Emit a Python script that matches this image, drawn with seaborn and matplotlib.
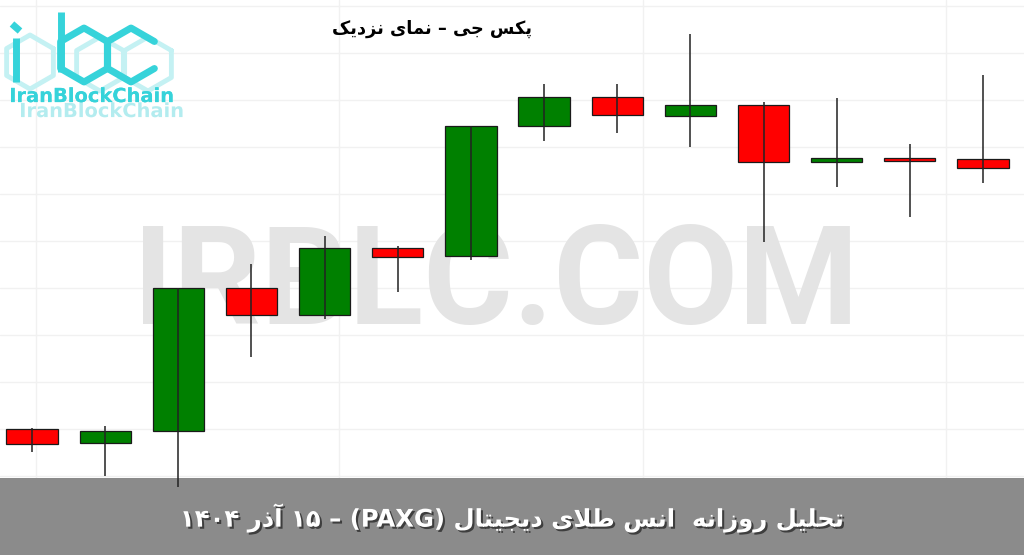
import numpy as np
import pandas as pd
import seaborn as sns
import matplotlib.pyplot as plt
import matplotlib.patheffects as pe
from matplotlib.patches import Rectangle

# daily candles (PAXG)
days = list(range(14))
open_ = [4035.5, 4028.5, 4034.5, 4106.0, 4092.5, 4126.0, 4122.0, 4187.0, 4201.5, 4192.0, 4197.5, 4169.0, 4171.0, 4170.5]
high = [4036.0, 4037.0, 4106.0, 4118.0, 4132.0, 4127.0, 4187.0, 4208.0, 4208.0, 4233.0, 4199.0, 4201.0, 4178.0, 4212.5]
low = [4024.0, 4012.0, 4006.5, 4071.5, 4090.5, 4104.0, 4120.0, 4179.5, 4183.5, 4176.5, 4129.0, 4156.5, 4141.5, 4158.5]
close = [4028.0, 4034.5, 4106.0, 4092.5, 4126.0, 4121.5, 4187.0, 4201.5, 4192.5, 4197.5, 4169.0, 4171.0, 4169.5, 4166.0]

title = "پکس جی – نمای نزدیک"
caption = "تحلیل روزانه  انس طلای دیجیتال (PAXG) – ۱۵ آذر ۱۴۰۴"
watermark = "IRBLC.COM"
brand = "IranBlockChain"

# matplotlib has no arabic shaping, so pick presentation forms by hand
FORMS = {
    'ا': ('\uFE8D', '\uFE8E', None, None),
    'آ': ('\uFE81', '\uFE82', None, None),
    'د': ('\uFEA9', '\uFEAA', None, None),
    'ذ': ('\uFEAB', '\uFEAC', None, None),
    'ر': ('\uFEAD', '\uFEAE', None, None),
    'ز': ('\uFEAF', '\uFEB0', None, None),
    'و': ('\uFEED', '\uFEEE', None, None),
    'ت': ('\uFE95', '\uFE96', '\uFE97', '\uFE98'),
    'ج': ('\uFE9D', '\uFE9E', '\uFE9F', '\uFEA0'),
    'ح': ('\uFEA1', '\uFEA2', '\uFEA3', '\uFEA4'),
    'س': ('\uFEB1', '\uFEB2', '\uFEB3', '\uFEB4'),
    'ط': ('\uFEC1', '\uFEC2', '\uFEC3', '\uFEC4'),
    'ل': ('\uFEDD', '\uFEDE', '\uFEDF', '\uFEE0'),
    'م': ('\uFEE1', '\uFEE2', '\uFEE3', '\uFEE4'),
    'ن': ('\uFEE5', '\uFEE6', '\uFEE7', '\uFEE8'),
    'ه': ('\uFEE9', '\uFEEA', '\uFEEB', '\uFEEC'),
    'ی': ('\uFBFC', '\uFBFD', '\uFBFE', '\uFBFF'),
    'پ': ('\uFB56', '\uFB57', '\uFB58', '\uFB59'),
    'ک': ('\uFB8E', '\uFB8F', '\uFB90', '\uFB91'),
}
LAMALEF = {'ا': ('\uFEFB', '\uFEFC'), 'آ': ('\uFEF5', '\uFEF6')}


def joins_next(ch):
    return ch in FORMS and FORMS[ch][2] is not None


def shape(word):
    res = []
    i = 0
    while i < len(word):
        ch = word[i]
        if ch not in FORMS:
            res.append(ch)
            i += 1
            continue
        p = i > 0 and joins_next(word[i - 1])
        if ch == 'ل' and i + 1 < len(word) and word[i + 1] in LAMALEF:
            lig = LAMALEF[word[i + 1]]
            res.append(lig[1] if p else lig[0])
            i += 2
            continue
        n = joins_next(ch) and i + 1 < len(word) and word[i + 1] in FORMS
        iso, fin, ini, med = FORMS[ch]
        res.append(med if p and n else fin if p else ini if n else iso)
        i += 1
    return ''.join(reversed(res))


def fa(text):
    out = []
    for tok in reversed(text.split(' ')):
        out.append(shape(tok) if any(c in FORMS for c in tok) else tok)
    return ' '.join(out)


def px(x, y):
    # picture pixels -> figure fraction
    return x / 1024, 1 - y / 555


def hexagon(cx, cy, r, open_right=False):
    w = r * np.sqrt(3) / 2
    pts = [(cx + w, cy - r / 2), (cx, cy - r), (cx - w, cy - r / 2),
           (cx - w, cy + r / 2), (cx, cy + r), (cx + w, cy + r / 2)]
    if not open_right:
        pts.append(pts[0])
    xs, ys = zip(*[px(a, b) for a, b in pts])
    return xs, ys


df = pd.DataFrame({"day": days, "open": open_, "high": high, "low": low, "close": close})
df["up"] = df["close"] >= df["open"]
df["bottom"] = df[["open", "close"]].min(axis=1)
df["height"] = (df["close"] - df["open"]).abs()

sns.set_theme(style="whitegrid", rc={"grid.color": "#f1f1f1", "grid.linewidth": 1.0})

fig = plt.figure(figsize=(10.24, 5.55), dpi=100)
ax = fig.add_axes([0, 0, 1, 1])

colors = np.where(df["up"], "#008000", "#ff0000")
ax.bar(df["day"], df["height"], bottom=df["bottom"], width=0.7, color=colors,
       edgecolor="#1a1a1a", linewidth=0.9, zorder=3)
ax.vlines(df["day"], df["low"], df["high"], color="#222222", linewidth=1.1, zorder=4)

ax.set_xlim(-0.4375, 13.56)
ax.set_ylim(3972.5, 4250)
ax.set_xticks(np.arange(0.05, 14, 4.15))
ax.set_yticks(np.arange(4012, 4250, 23.5))
ax.tick_params(length=0, labelbottom=False, labelleft=False)
for s in ax.spines.values():
    s.set_visible(False)

# watermark behind the candles
ax.text(0.484, 0.483, watermark, transform=ax.transAxes, ha="center", va="center",
        fontsize=99, fontweight="bold", family="Roboto", color="#e4e4e4", zorder=1)

# bottom band
ax.add_patch(Rectangle((0, 0), 1, 77 / 555, transform=ax.transAxes,
                       facecolor="#8b8b8b", edgecolor="none", zorder=2))

fig.text(0.4995, 0.066, fa(caption), ha="center", va="center", fontsize=17.5,
         fontweight="bold", family="DejaVu Sans", color="white", zorder=10,
         path_effects=[pe.withSimplePatchShadow(offset=(1.5, -1.5), shadow_rgbFace="black", alpha=0.55)])

fig.text(0.4215, 0.948, fa(title), ha="center", va="center", fontsize=12.8,
         fontweight="bold", family="DejaVu Sans", color="black", zorder=10)

# logo, top left: hexagon strokes for "ibc"
light = "#c4f1f3"
cyan = "#36d3da"
for cx, cy in [(30, 62), (100, 64), (148, 64)]:
    xs, ys = hexagon(cx, cy, 27)
    ax.plot(xs, ys, transform=fig.transFigure, color=light, lw=3.5, zorder=5)
for (x0, y0), (x1, y1) in [((12, 24), (20, 31)), ((16, 38), (16, 82)), ((61, 12), (61, 72))]:
    xs, ys = zip(px(x0, y0), px(x1, y1))
    ax.plot(xs, ys, transform=fig.transFigure, color=cyan, lw=5, zorder=6, solid_capstyle="butt")
xs, ys = hexagon(84, 55, 27)
ax.plot(xs, ys, transform=fig.transFigure, color=cyan, lw=5, zorder=6)
xs, ys = hexagon(131, 55, 27, open_right=True)
ax.plot(xs, ys, transform=fig.transFigure, color=cyan, lw=5, zorder=6)

fig.text(0.009, 0.826, brand, ha="left", va="center", fontsize=14, fontweight="bold",
         family="DejaVu Sans", color=cyan, zorder=7,
         path_effects=[pe.withSimplePatchShadow(offset=(7.2, -10.8), shadow_rgbFace="#b3ecef", alpha=1.0),
                       pe.Normal()])

plt.savefig("out.png", dpi=100)
